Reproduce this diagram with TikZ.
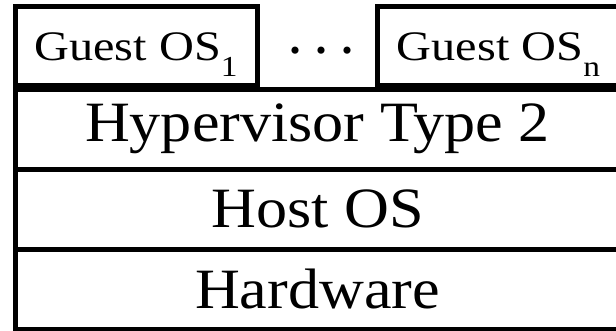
\documentclass[tikz,border=0pt]{standalone}
\usepackage{fontspec}
\setmainfont{Liberation Serif}
\newfontfamily\bigfont{Liberation Serif}[FakeStretch=1.09]
\newfontfamily\guestfont{Liberation Serif}[FakeStretch=1.15]
\tikzset{
  layer/.style={draw=black, line width=5pt, inner sep=0pt, outer sep=0pt,
    minimum width=605pt, minimum height=80pt, align=center,
    font=\bigfont\fontsize{57}{57}\selectfont},
  guestbox/.style={draw=black, line width=5pt, inner sep=0pt, outer sep=0pt,
    minimum height=79pt, text height=29pt, text depth=0pt,
    font=\guestfont\fontsize{42}{42}\selectfont},
}
\newcommand{\guestsub}[1]{\raisebox{-16pt}[0pt][0pt]{\fontsize{29}{29}\selectfont #1}}
\begin{document}
\begin{tikzpicture}[x=1pt,y=-1pt]
\useasboundingbox (0,0) rectangle (616,330);
\node[layer] (hyp) at (317.5,129) {Hypervisor Type 2};
\node[layer] (host) at (317.5,209) {Host OS};
\node[layer] (hw) at (317.5,289) {Hardware};
\node[guestbox, minimum width=242pt] (g1) at (136,45.5) {Guest OS\guestsub{1}};
\node[guestbox, minimum width=243pt] (gn) at (498.5,45.5) {Guest OS\guestsub{n}};
\node[inner sep=0pt, font=\fontsize{60}{60}\selectfont] (dots) at (321.5,59) {\char"B7\hspace{6.5pt}\char"B7\hspace{6.5pt}\char"B7};
\end{tikzpicture}
\end{document}
